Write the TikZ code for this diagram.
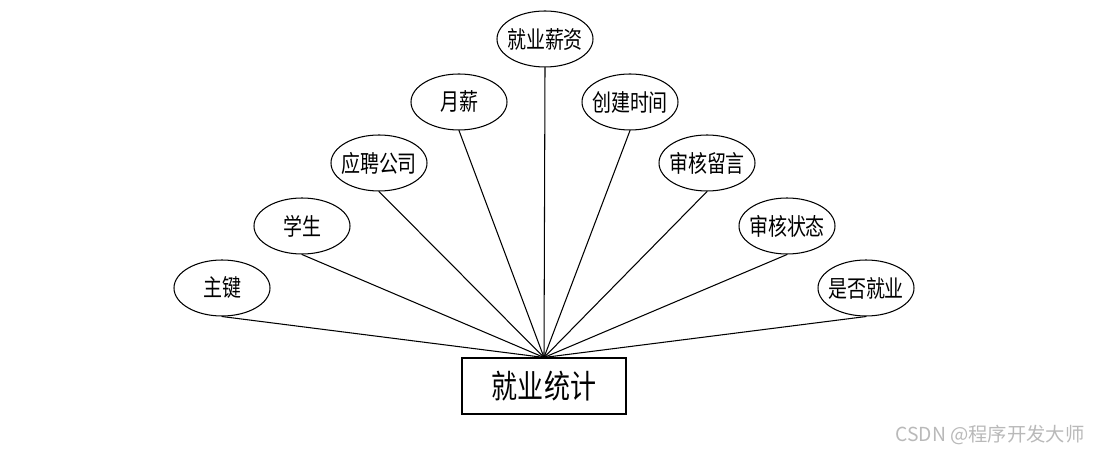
\documentclass[tikz,border=0pt]{standalone}
\usepackage{fontspec}
\newfontfamily\cjk[FakeStretch=0.8]{Noto Sans CJK SC}
\newfontfamily\wmfont{Noto Sans CJK SC}
\usetikzlibrary{shapes.geometric}

\begin{document}
\begin{tikzpicture}[line width=0.6pt, every node/.style={font=\cjk\fontsize{13.5}{15}\selectfont},
		attr/.style={draw,ellipse,inner xsep=-22pt,inner ysep=0pt,minimum width=1.92cm,minimum height=1.12cm},
		entity/.style={draw,rectangle,inner sep=0pt,minimum width=3.28cm,minimum height=1.12cm,font=\cjk\fontsize{18.5}{21}\selectfont}]
			\useasboundingbox (0,0) rectangle (21.88,-9.04);
			\node[entity] (tj) at (10.88,-7.72) {就业统计};
			\node[attr] (zj) at (4.44,-5.76) {主键};
			\node[attr] (xs) at (6.04,-4.52) {学生};
			\node[attr] (gs) at (7.58,-3.26) {应聘公司};
			\node[attr] (yx) at (9.18,-2.04) {月薪};
			\node[attr] (xz) at (10.9,-0.78) {就业薪资};
			\node[attr] (sj) at (12.6,-2.04) {创建时间};
			\node[attr] (ly) at (14.14,-3.26) {审核留言};
			\node[attr] (zt) at (15.74,-4.52) {审核状态};
			\node[attr] (jy) at (17.32,-5.76) {是否就业};
			\draw (zj.south) -- (tj.north);
			\draw (xs.south) -- (tj.north);
			\draw (gs.south) -- (tj.north);
			\draw (yx.south) -- (tj.north);
			\draw (xz.south) -- (tj.north);
			\draw (sj.south) -- (tj.north);
			\draw (ly.south) -- (tj.north);
			\draw (zt.south) -- (tj.north);
			\draw (jy.south) -- (tj.north);
			% watermark
			\node[anchor=east,text=gray!55,font=\wmfont\fontsize{11}{13}\selectfont] (wm) at (21.82,-8.7) {CSDN @程序开发大师};
		\end{tikzpicture}
\end{document}
